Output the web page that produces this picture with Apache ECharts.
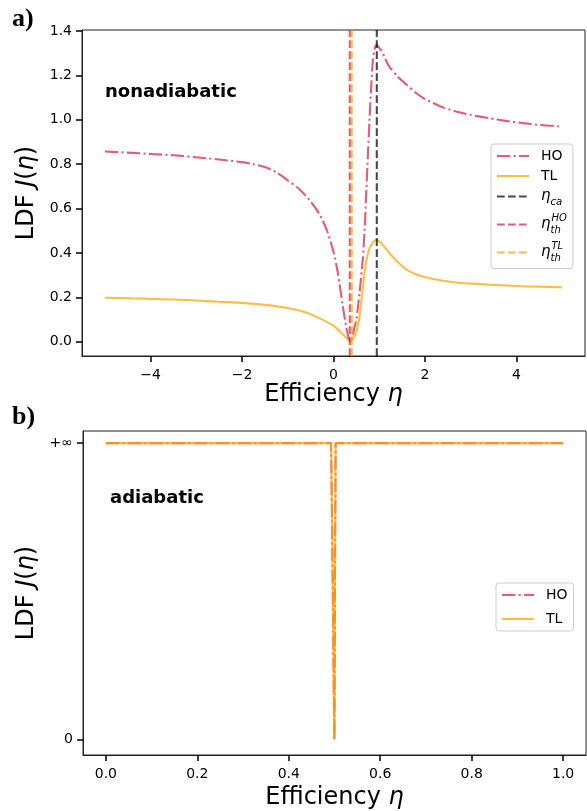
<!DOCTYPE html>
<html><head><meta charset="utf-8">
<script src="https://cdn.jsdelivr.net/npm/echarts@6/dist/echarts.min.js"></script>
<style>html,body{margin:0;padding:0;background:#fff}#c{width:587px;height:811px}</style>
</head><body><div id="c"></div>
<script>
// ---- Panel a) nonadiabatic ----
const hoEtaA = [-5.0,-4.5,-4.0,-3.5,-3.0,-2.5,-2.0,-1.75,-1.5,-1.25,-1.0,-0.75,-0.5,-0.3,-0.15,0.0,0.1,0.2,0.28,0.33,0.357,0.39,0.42,0.46,0.5,0.57,0.64,0.68,0.71,0.75,0.79,0.83,0.86,0.89,0.92,0.947,0.98,1.05,1.12,1.22,1.4,1.59,1.8,1.95,2.32,2.68,3.0,3.41,3.8,4.14,4.5,5.0];
const hoJA   = [0.857,0.852,0.846,0.840,0.831,0.821,0.809,0.800,0.787,0.763,0.727,0.688,0.632,0.572,0.505,0.405,0.305,0.165,0.065,0.018,0.0,0.01,0.03,0.065,0.10,0.22,0.37,0.50,0.64,0.83,1.01,1.17,1.265,1.31,1.333,1.337,1.33,1.31,1.28,1.24,1.195,1.160,1.122,1.100,1.062,1.037,1.022,1.007,0.994,0.985,0.977,0.969];
const tlEtaA = [-5.0,-4.5,-4.0,-3.5,-3.0,-2.5,-2.0,-1.5,-1.0,-0.6,-0.3,0.0,0.13,0.25,0.33,0.37,0.41,0.46,0.52,0.57,0.64,0.71,0.77,0.82,0.88,0.947,1.0,1.1,1.22,1.4,1.59,1.8,1.95,2.3,2.68,3.0,3.41,4.14,4.5,5.0];
const tlJA   = [0.198,0.196,0.193,0.190,0.186,0.180,0.175,0.166,0.152,0.132,0.105,0.072,0.048,0.024,0.008,0.0,0.008,0.024,0.06,0.114,0.24,0.354,0.41,0.432,0.452,0.459,0.452,0.43,0.40,0.36,0.326,0.304,0.294,0.278,0.267,0.262,0.257,0.250,0.248,0.245];
const etaCa = 0.947, etaThHO = 0.357, etaThTL = 0.40;
const xTicksA = [-4,-2,0,2,4];
const yTicksA = [0,0.2,0.4,0.6,0.8,1.0,1.2,1.4];
const xRangeA = [-5.5, 5.5], yRangeA = [-0.0644, 1.4045];

// ---- Panel b) adiabatic ----
const hoEtaB = [0.0,0.4925,0.495,0.497,0.499,0.4998,0.5005,0.5012,0.5025,1.0];
const hoJB   = [1,1,0.7,0.4,0.1,0,0.3,0.6,1,1];
const tlEtaB = [0.0,0.4925,0.495,0.497,0.499,0.4998,0.5005,0.5012,0.5025,1.0];
const tlJB   = [1,1,0.7,0.4,0.1,0,0.3,0.6,1,1];
const xTicksB = [0,0.2,0.4,0.6,0.8,1.0];
const yTicksB = [0,1];
const yTickLabelsB = ['0','+∞'];
const xRangeB = [-0.05, 1.05], yRangeB = [-0.0513, 1.041];

const legendLabels = {HO:'HO', TL:'TL', ca:'{e|η}{s|ca}', thHO:'{e|η}{s|th}{u|HO}', thTL:'{e|η}{s|th}{u|TL}'};

const HO_C = 'rgba(220,20,60,0.7)';
const TL_C = 'rgba(255,165,0,0.75)';
const CA_C = 'rgba(0,0,0,0.72)';
const DASHDOT = [13.3,3.3,2.1,3.3];
const DASHED = [7.7,3.3];
const F = '"DejaVu Sans", sans-serif';

const zip = (a,b) => a.map((v,i)=>[v,b[i]]);
const minus = v => (v<0 ? '\u2212'+Math.abs(v) : String(v));

function makeAxis(o){
  return {
    type:'value', gridIndex:o.grid, min:o.range[0], max:o.range[1],
    axisLine:{show:true, onZero:false, lineStyle:{color:'#222', width:1}},
    splitLine:{show:false},
    axisTick:{show:true, length:6, lineStyle:{color:'#000', width:1.5}, customValues:o.ticks},
    axisLabel:{color:'#000', fontFamily:F, fontSize:14, customValues:o.ticks, formatter:o.fmt, margin:o.margin},
    name:o.name, nameLocation:'middle', nameGap:o.gap,
    nameTextStyle:{color:'#000', fontFamily:F, fontSize:24,
      rich:{i:{fontStyle:'italic', fontFamily:F, fontSize:24, color:'#000'}}}
  };
}

function lineSeries(name, data, color, dash, xi){
  return {type:'line', name, data, xAxisIndex:xi, yAxisIndex:xi, symbol:'none', showSymbol:false,
    smooth:0.25, clip:true, silent:true, animation:false,
    lineStyle:{color, width:2.1, type: dash||'solid'}, itemStyle:{color}};
}
function vline(name, x, color, yr){
  return {type:'line', name, data:[[x,yr[0]],[x,yr[1]]], xAxisIndex:0, yAxisIndex:0, symbol:'none', showSymbol:false,
    clip:true, silent:true, animation:false, lineStyle:{color, width:2.1, type:DASHED}, itemStyle:{color}};
}

const chart = echarts.init(document.getElementById('c'), null, {renderer:'canvas'});
const option = {
  animation:false,
  backgroundColor:'#fff',
  grid:[
    {left:82, top:30, width:503, height:326, show:true, borderColor:'#222', borderWidth:1},
    {left:83, top:431, width:503, height:326, show:true, borderColor:'#222', borderWidth:1}
  ],
  xAxis:[
    makeAxis({grid:0, range:xRangeA, ticks:xTicksA, fmt:minus, margin:12, name:'Efficiency {i|η}', gap:26}),
    makeAxis({grid:1, range:xRangeB, ticks:xTicksB, fmt:v=>v.toFixed(1), margin:12, name:'Efficiency {i|η}', gap:31})
  ],
  yAxis:[
    makeAxis({grid:0, range:yRangeA, ticks:yTicksA, fmt:v=>v.toFixed(1), margin:10, name:'LDF {i|J}({i|η})', gap:32}),
    makeAxis({grid:1, range:yRangeB, ticks:yTicksB, fmt:v=>yTickLabelsB[yTicksB.indexOf(Math.round(v))], margin:10, name:'LDF {i|J}({i|η})', gap:32})
  ],
  legend:[
    {orient:'vertical', left:491, top:144, data:['HO','TL','ca','thHO','thTL'],
      itemWidth:32, itemHeight:14, itemGap:6, padding:[5,6,5,5],
      backgroundColor:'rgba(255,255,255,0.8)', borderColor:'#cccccc', borderWidth:1, borderRadius:3,
      selectedMode:false, formatter:n=>legendLabels[n], itemStyle:{opacity:0},
      textStyle:{color:'#000', fontFamily:F, fontSize:14, padding:[0,0,0,7],
        rich:{e:{fontStyle:'italic', fontFamily:F, fontSize:15, color:'#000'},
              s:{fontStyle:'italic', fontFamily:F, fontSize:10, color:'#000', verticalAlign:'bottom', width:1, lineHeight:22},
              u:{fontStyle:'italic', fontFamily:F, fontSize:10, color:'#000', verticalAlign:'top', lineHeight:22}}}},
    {orient:'vertical', left:496, top:583, data:['HO','TL'],
      itemWidth:32, itemHeight:14, itemGap:10, padding:[5,6,5,5],
      backgroundColor:'rgba(255,255,255,0.8)', borderColor:'#cccccc', borderWidth:1, borderRadius:3,
      selectedMode:false, formatter:n=>legendLabels[n], itemStyle:{opacity:0},
      textStyle:{color:'#000', fontFamily:F, fontSize:14, padding:[0,0,0,7]}}
  ],
  graphic:[
    {type:'text', left:12, top:6, style:{text:'a)', font:'bold 26px "Liberation Serif", serif', fill:'#000'}},
    {type:'text', left:12, top:404, style:{text:'b)', font:'bold 26px "Liberation Serif", serif', fill:'#000'}},
    {type:'text', left:105, top:83, style:{text:'nonadiabatic', font:'bold 18px "DejaVu Sans", sans-serif', fill:'#000'}},
    {type:'text', left:110, top:489, style:{text:'adiabatic', font:'bold 18px "DejaVu Sans", sans-serif', fill:'#000'}}
  ],
  series:[
    lineSeries('HO', zip(hoEtaA, hoJA), HO_C, DASHDOT, 0),
    lineSeries('TL', zip(tlEtaA, tlJA), TL_C, 'solid', 0),
    vline('ca', etaCa, CA_C, yRangeA),
    vline('thHO', etaThHO, HO_C, yRangeA),
    vline('thTL', etaThTL, TL_C, yRangeA),
    Object.assign(lineSeries('HO', zip(hoEtaB, hoJB), HO_C, DASHDOT, 1), {smooth:false}),
    Object.assign(lineSeries('TL', zip(tlEtaB, tlJB), TL_C, 'solid', 1), {smooth:false})
  ]
};
chart.setOption(option);
</script>
</body></html>
